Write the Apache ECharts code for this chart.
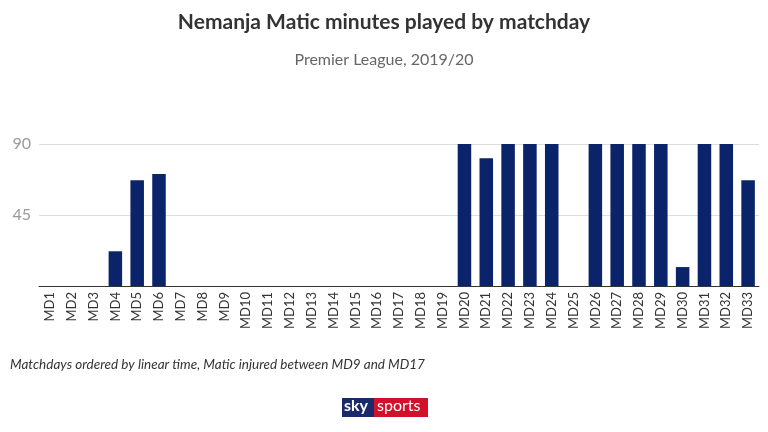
<!DOCTYPE html><html><head><meta charset="utf-8"><script src="https://cdn.jsdelivr.net/npm/echarts@6/dist/echarts.min.js"></script>
<style>html,body{margin:0;padding:0;background:#fff}#c{width:768px;height:432px}</style></head><body><div id="c"></div><script>
var categories=[];for(var i=1;i<=33;i++)categories.push('MD'+i);
var minutes=[0,0,0,22,67,71,0,0,0,0,0,0,0,0,0,0,0,0,0,90,81,90,90,90,0,90,90,90,90,12,90,90,67];
var yTicks=[45,90];
var ch=echarts.init(document.getElementById('c'));
ch.setOption({
title:[{text:'Nemanja Matic minutes played by matchday',left:'center',top:7,textStyle:{fontFamily:'Lato',fontSize:21,fontWeight:'bold',color:'#333'}},
{text:'Premier League, 2019/20',left:'center',top:47,textStyle:{fontFamily:'Lato',fontSize:16,fontWeight:'normal',color:'#666'}}],
grid:{left:39,right:9,top:144,bottom:146},
xAxis:{type:'category',data:categories,axisLine:{lineStyle:{color:'#333'}},axisTick:{show:false},axisLabel:{rotate:90,color:'#333',fontFamily:'Lato',fontSize:13,interval:0,margin:6}},
yAxis:{type:'value',min:0,max:90,interval:45,axisLine:{show:false},axisTick:{show:false},splitLine:{lineStyle:{color:'#ddd'}},
axisLabel:{color:'#999',fontFamily:'Lato',fontSize:16,margin:8,formatter:function(v){return yTicks.indexOf(v)>=0?v:'';}}},
series:[{type:'bar',data:minutes,barWidth:'62%',itemStyle:{color:'#0b2369'}}],
graphic:[{type:'text',left:10,top:358,style:{text:'Matchdays ordered by linear time, Matic injured between MD9 and MD17',font:'italic 13.5px Lato',fill:'#333'}},
{type:'rect',shape:{x:342,y:398,width:32,height:19},style:{fill:'#1b2a6b'}},
{type:'rect',shape:{x:374,y:398,width:54,height:19},style:{fill:'#d0112b'}},
{type:'text',x:344,y:398,style:{text:'sky',font:'bold 16px Lato',fill:'#fff'}},
{type:'text',x:377,y:398,style:{text:'sports',font:'16px Lato',fill:'#fff'}}]
});
</script></body></html>
